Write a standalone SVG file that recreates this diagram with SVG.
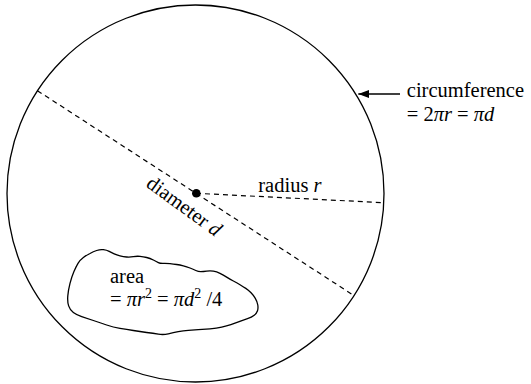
<svg xmlns="http://www.w3.org/2000/svg" width="531" height="384" viewBox="0 0 531 384">
<style>
text{font-family:"Liberation Serif",serif;font-size:20.5px;fill:#000}
.i{font-style:italic}
.sup{font-size:14px}
.outline{fill:none;stroke:#000;stroke-width:1.3}
.dash{fill:none;stroke:#000;stroke-width:1.2;stroke-dasharray:5 4}
</style>
<defs>
<marker id="ah" viewBox="0 0 11 8" refX="11" refY="4" markerWidth="11" markerHeight="8" markerUnits="userSpaceOnUse" orient="auto">
<path d="M0,0 L11,4 L0,8 Z" fill="#000"/>
</marker>
</defs>
<g id="circle">
<circle class="outline" cx="195.5" cy="193.5" r="188.5"/>
</g>
<g id="connectors">
<line class="dash" x1="37.4" y1="90.7" x2="353.1" y2="295"/>
<line class="dash" x1="196" y1="193.3" x2="384" y2="202.7"/>
<line x1="400" y1="94" x2="358.3" y2="94" stroke="#000" stroke-width="1.3" marker-end="url(#ah)"/>
</g>
<g id="center">
<circle cx="196.3" cy="193.3" r="4.3" fill="#000"/>
</g>
<g id="area">
<path class="outline" stroke-width="1.2" d="M 68.65,305.85 Q 67.3,301.7 67.8,295.85 Q 68.3,290 70,283.35 Q 71.7,276.7 73.85,271.7 Q 76,266.7 78,263.35 Q 80,260 83.35,257.5 Q 86.7,255 90,253.5 Q 93.3,251.7 96.65,250.5 Q 100,249.3 103.35,249.65 Q 106.7,250 109.2,251.35 Q 111.7,252.7 114.2,253.85 Q 116.7,255 120,255.85 Q 123.3,256.7 126.65,257 Q 130,257.3 133.35,256.65 Q 136.7,256 140,256.35 Q 143.3,256.7 146.65,257.5 Q 150,258.3 153.35,260 Q 156.7,261.7 158.35,262.6 Q 160,263.5 163.35,263.4 Q 166.7,263.3 170,263.65 Q 173.3,264 176.65,264.5 Q 180,265 183.35,265.85 Q 186.7,266.7 190,268 Q 193.3,269.3 195.8,270.5 Q 198.3,271.7 200.8,271.7 Q 203.3,271.7 206.65,271.2 Q 210,270.7 213.35,271.2 Q 216.7,271.7 220,273.35 Q 223.3,275 226.65,277.15 Q 230,279.3 233.35,281 Q 236.7,282.7 240,284.7 Q 243.3,286.7 245.8,288.35 Q 248.3,290 250.8,292.5 Q 253.3,295 255.3,298.35 Q 257.3,301.7 257.8,305 Q 258.3,308.3 257.5,310.8 Q 256.7,313.3 254.2,315.3 Q 251.7,317.3 247.5,318.65 Q 243.3,320 239.15,321.65 Q 235,323.3 230.85,324.65 Q 226.7,326 221.7,327.15 Q 216.7,328.3 210,328.8 Q 203.3,329.3 198.3,329.65 Q 193.3,330 188.3,330.35 Q 183.3,330.7 178.3,331.7 Q 173.3,332.7 168.3,333.85 Q 163.3,335 158.3,334.15 Q 153.3,333.3 146.65,332.5 Q 140,331.7 133.35,330.5 Q 126.7,329.3 120,328.3 Q 113.3,327.3 106.65,325 Q 100,322.7 93.35,320.5 Q 86.7,318.3 81.7,316.65 Q 76.7,315 73.35,312.5 Q 70,310 68.65,305.85 Z"/>
<text x="110" y="283.3">area</text>
<text x="110" y="306">= <tspan class="i">πr</tspan><tspan class="sup" dy="-8">2</tspan><tspan dy="8"> = </tspan><tspan class="i">πd</tspan><tspan class="sup" dy="-8">2</tspan><tspan dy="8"> /4</tspan></text>
</g>
<g id="circumference-label">
<text x="406.8" y="97">circumference</text>
<text x="406.8" y="120.7">= 2<tspan class="i">πr</tspan> = <tspan class="i">πd</tspan></text>
</g>
<g id="radius-label">
<text x="258.3" y="191.7">radius <tspan class="i">r</tspan></text>
</g>
<g id="diameter-label">
<text transform="translate(145,186) rotate(36)">diameter <tspan class="i">d</tspan></text>
</g>
</svg>
